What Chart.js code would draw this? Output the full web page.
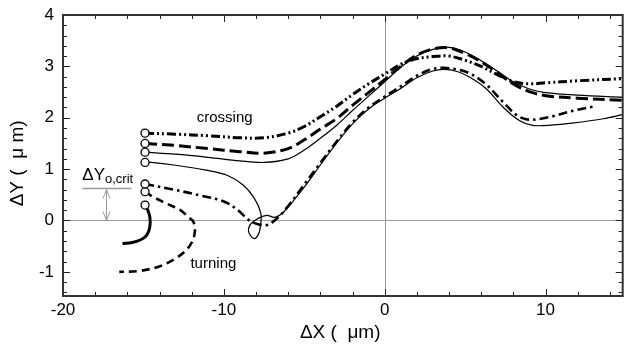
<!DOCTYPE html>
<html><head><meta charset="utf-8">
<script src="https://cdn.jsdelivr.net/npm/chart.js@4/dist/chart.umd.min.js"></script>
<style>html,body{margin:0;padding:0;background:#fff;overflow:hidden;width:624px;height:344px}</style>
</head><body>
<canvas id="c" width="628" height="344" style="width:628px;height:344px;display:block"></canvas>
<script>
// ---- tick labels ----
const xTicks = [-20, -10, 0, 10];
const yTicks = [-1, 0, 1, 2, 3, 4];

// ---- trajectories [ΔX, ΔY] (µm) ----
const crossDashDotDot = [[-14.9,1.70],[-13,1.68],[-11,1.65],[-9,1.61],[-7.5,1.61],[-6,1.70],[-5,1.83],[-4,2.02],[-3,2.22],[-2,2.45],[-1,2.66],[0,2.85],[1,3.04],[2,3.15],[3,3.19],[4,3.2],[5,3.12],[6,3.0],[7,2.84],[8,2.70],[9,2.66],[10,2.68],[12,2.72],[14.8,2.76]];
const crossLongDash = [[-14.9,1.50],[-13,1.46],[-11,1.40],[-9,1.34],[-7.5,1.31],[-6,1.40],[-5,1.57],[-4,1.78],[-3,1.98],[-2,2.24],[-1,2.49],[0,2.74],[1,3.0],[2,3.22],[3,3.34],[4,3.36],[5,3.25],[6,3.09],[7,2.88],[8,2.66],[9,2.51],[10,2.43],[12,2.38],[14.8,2.34]];
const crossSolidUpper = [[-14.9,1.33],[-13,1.29],[-11,1.23],[-9,1.16],[-7.5,1.13],[-6,1.2],[-5,1.37],[-4,1.6],[-3,1.85],[-2,2.14],[-1,2.42],[0,2.70],[1,2.98],[2,3.2],[3,3.33],[4,3.37],[5,3.28],[6,3.11],[7,2.91],[8,2.70],[9,2.56],[10,2.49],[12,2.44],[14.8,2.40]];
const crossSolidLoop = [[-14.9,1.13],[-14.5,1.13],[-13.1,1.08],[-11.1,0.98],[-9.8,0.88],[-8.8,0.69],[-8.1,0.43],[-7.7,0.14],[-7.72,-0.1],[-7.85,-0.27],[-8.14,-0.35],[-8.47,-0.2],[-8.2,-0.03],[-7.35,0.10],[-6.83,0.06],[-6.3,0.16],[-5.0,0.65],[-4.0,1.08],[-3.0,1.50],[-2.0,1.88],[-1.0,2.17],[0,2.38],[1,2.57],[2,2.78],[3,2.91],[3.7,2.94],[4.5,2.9],[5.3,2.79],[6.3,2.57],[7.35,2.21],[8.4,1.94],[9.2,1.85],[10.5,1.86],[11.5,1.89],[13.6,1.98],[14.8,2.06]];
const crossDashDot = [[-14.9,0.71],[-14.6,0.69],[-13.1,0.60],[-11.5,0.49],[-10.0,0.37],[-9.2,0.22],[-8.6,0.05],[-8.2,-0.04],[-7.35,-0.09],[-6.7,0.04],[-6.0,0.28],[-5.0,0.70],[-4.0,1.12],[-3.0,1.53],[-2.0,1.91],[-1,2.2],[0,2.41],[1,2.61],[2,2.82],[3,2.95],[3.7,2.97],[4.5,2.94],[5.3,2.86],[6.3,2.65],[7.35,2.31],[8.2,2.05],[8.8,1.97],[9.5,1.97],[10.45,2.03],[11.9,2.15],[13.0,2.22]];
const turnDash = [[-14.9,0.56],[-14.4,0.46],[-13.56,0.33],[-12.7,0.2],[-12.15,0.05],[-11.9,-0.02],[-11.8,-0.2],[-11.95,-0.4],[-12.35,-0.58],[-13.0,-0.74],[-13.98,-0.89],[-15.2,-0.98],[-16.5,-1.0]];
const turnSolid = [[-14.9,0.30],[-14.75,0.22],[-14.6,0.07],[-14.6,-0.12],[-14.8,-0.29],[-15.2,-0.38],[-15.7,-0.43],[-16.3,-0.45]];

const FONT = "'Liberation Sans', Arial, sans-serif";
const toPts = a => a.map(p => ({x: p[0], y: p[1]}));
function ds(data, width, dash){
  return {
    data: toPts(data), showLine: true, borderColor: '#000', borderWidth: width,
    borderDash: dash, borderCapStyle: 'butt', tension: 0.35, fill: false,
    pointRadius: c => c.dataIndex === 0 ? 4 : 0,
    pointHoverRadius: 0, pointBorderColor: '#000', pointBackgroundColor: '#fff', pointBorderWidth: 1.3
  };
}

const decor = {
  id: 'decor',
  beforeDatasetsDraw(chart){
    const {ctx, chartArea: a, scales: {x, y}} = chart;
    ctx.save();
    ctx.strokeStyle = '#9a9a9a'; ctx.lineWidth = 1;
    const y0 = Math.round(y.getPixelForValue(0)) + 0.5;
    const x0 = Math.round(x.getPixelForValue(0)) + 0.5;
    ctx.beginPath();
    ctx.moveTo(a.left, y0); ctx.lineTo(a.right, y0);
    ctx.moveTo(x0, a.top); ctx.lineTo(x0, a.bottom);
    ctx.stroke();
    ctx.restore();
  },
  afterDatasetsDraw(chart){
    const {ctx, chartArea: a, scales: {x, y}} = chart;
    ctx.save();
    // inward ticks
    ctx.strokeStyle = '#222'; ctx.lineWidth = 1;
    ctx.beginPath();
    for (let k = -10; k <= 7; k++){
      const v = 2*k; if (v < x.min - 1e-6 || v > x.max + 1e-6) continue;
      const px = Math.round(x.getPixelForValue(v)) + 0.5;
      const L = (v % 10 === 0) ? 7 : 4;
      ctx.moveTo(px, a.bottom); ctx.lineTo(px, a.bottom - L);
      ctx.moveTo(px, a.top); ctx.lineTo(px, a.top + L);
    }
    for (let k = -7; k <= 20; k++){
      const v = k/5; if (v < y.min - 1e-6 || v > y.max + 1e-6) continue;
      const py = Math.round(y.getPixelForValue(v)) + 0.5;
      const L = (k % 5 === 0) ? 7 : 4;
      ctx.moveTo(a.left, py); ctx.lineTo(a.left + L, py);
      ctx.moveTo(a.right, py); ctx.lineTo(a.right - L, py);
    }
    ctx.stroke();
    // frame
    ctx.strokeStyle = '#333'; ctx.lineWidth = 2;
    ctx.strokeRect(a.left, a.top, a.right - a.left, a.bottom - a.top);

    // annotations
    ctx.fillStyle = '#000';
    ctx.font = '15px ' + FONT; ctx.textAlign = 'center'; ctx.textBaseline = 'middle';
    ctx.fillText('crossing', x.getPixelForValue(-9.95), y.getPixelForValue(1.99));
    ctx.fillText('turning', x.getPixelForValue(-10.65), y.getPixelForValue(-0.85));

    // ΔY o,crit label
    ctx.textAlign = 'left'; ctx.textBaseline = 'alphabetic';
    ctx.font = '17px ' + FONT;
    const lx = x.getPixelForValue(-18.8), ly = y.getPixelForValue(0.78);
    ctx.fillText('ΔY', lx, ly);
    const w = ctx.measureText('ΔY').width;
    ctx.font = '13px ' + FONT;
    ctx.fillText('o,crit', lx + w, y.getPixelForValue(0.72));

    ctx.strokeStyle = '#999'; ctx.lineWidth = 1.3;
    ctx.beginPath();
    const gl = Math.round(y.getPixelForValue(0.64)) + 0.5;
    ctx.moveTo(x.getPixelForValue(-18.8), gl); ctx.lineTo(x.getPixelForValue(-15.75), gl);
    ctx.stroke();
    // double arrow
    ctx.lineWidth = 1;
    const ax = Math.round(x.getPixelForValue(-17.3)) + 0.5;
    const at = y.getPixelForValue(0.6), ab = y.getPixelForValue(0.0);
    ctx.beginPath();
    ctx.moveTo(ax, at); ctx.lineTo(ax, ab);
    ctx.moveTo(ax - 3.5, at + 9); ctx.lineTo(ax, at); ctx.lineTo(ax + 3.5, at + 9);
    ctx.moveTo(ax - 3.5, ab - 9); ctx.lineTo(ax, ab); ctx.lineTo(ax + 3.5, ab - 9);
    ctx.stroke();
    ctx.restore();
  }
};

new Chart(document.getElementById('c'), {
  type: 'scatter',
  data: { datasets: [
    ds(crossDashDotDot, 3, [9,3,2,3,2,3]),
    ds(crossLongDash, 3, [12,5]),
    ds(crossSolidUpper, 1.2, []),
    ds(crossSolidLoop, 1.2, []),
    ds(crossDashDot, 2.6, [9,4,2.5,4]),
    ds(turnDash, 2.6, [8,5]),
    ds(turnSolid, 3, [])
  ]},
  options: {
    responsive: false, animation: false, devicePixelRatio: 1,
    layout: { padding: { top: 15, right: 0, left: 0, bottom: 0 } },
    plugins: { legend: { display: false }, tooltip: { enabled: false } },
    events: [],
    scales: {
      x: {
        type: 'linear', min: -20, max: 14.8,
        grid: { display: false, drawTicks: false }, border: { display: false },
        afterBuildTicks: s => { s.ticks = xTicks.map(v => ({value: v})); },
        afterFit: s => { s.height = 48; s.paddingLeft = 0; s.paddingRight = 0; },
        ticks: { color: '#000', padding: 4, font: { size: 17, family: FONT } },
        title: { display: true, text: 'ΔX (  μm) ', color: '#000', font: { size: 19, family: FONT }, padding: { top: 0, bottom: 0 } }
      },
      y: {
        type: 'linear', min: -1.47, max: 4,
        grid: { display: false, drawTicks: false }, border: { display: false },
        afterBuildTicks: s => { s.ticks = yTicks.map(v => ({value: v})); },
        afterFit: s => { s.width = 63; s.paddingTop = 0; s.paddingBottom = 0; },
        ticks: { color: '#000', padding: 9, font: { size: 17, family: FONT } },
        title: { display: true, text: 'ΔY (  μ m)   ', color: '#000', font: { size: 19, family: FONT }, padding: { top: 6, bottom: 0 } }
      }
    }
  },
  plugins: [decor]
});
</script>
</body></html>
